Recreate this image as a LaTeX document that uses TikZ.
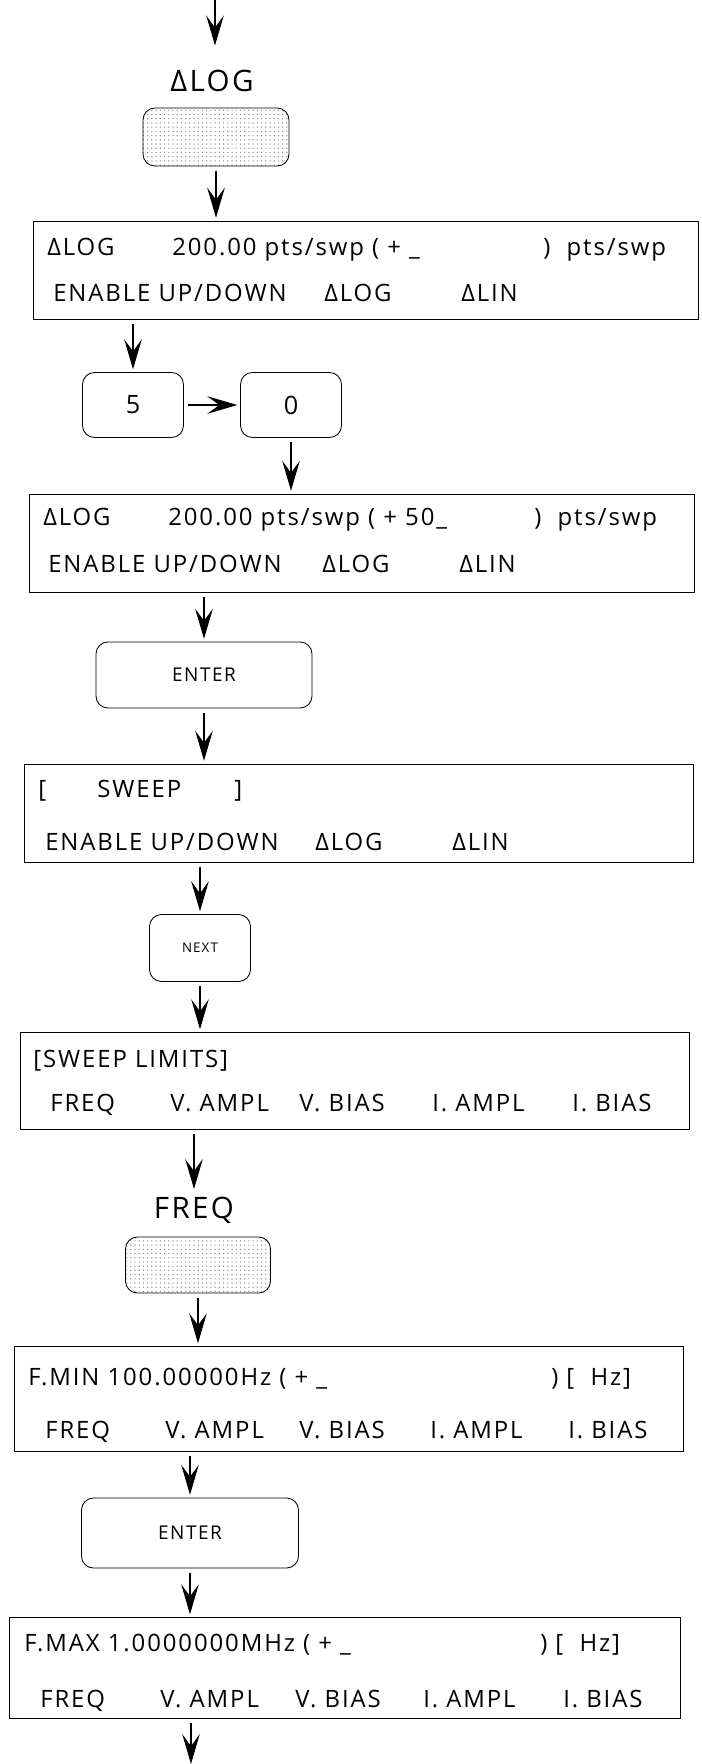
\documentclass[tikz,border=0pt]{standalone}
\usepackage{fontspec}
\setmainfont{Open Sans}[LetterSpace=8]
\usetikzlibrary{arrows.meta,patterns}

\begin{document}
\begin{tikzpicture}[x=0.025cm, y=-0.025cm,
    >={Stealth[length=0.75cm, width=0.44cm, inset=0.3cm]},
    disp/.style={draw, line width=0.6pt, inner sep=0pt},
    key/.style={draw, line width=0.6pt, rounded corners=0.3cm, inner sep=0pt},
    softkey/.style={key, pattern=dots, pattern color=black!45},
    txt/.style={anchor=base west, inner sep=0pt, font=\fontsize{17}{20}\selectfont},
    flow/.style={->, line width=0.8pt, shorten <=3pt, shorten >=2pt}]
  \useasboundingbox (0,0) rectangle (702,1764);

  \coordinate (in) at (215,0);
  \node[font=\fontsize{21}{24}\selectfont] (lblLog) at (212,81) {ΔLOG};
  \node[softkey, minimum width=3.65cm, minimum height=1.45cm] (keyLog) at (216,137) {};

  \node[disp, minimum width=16.6cm, minimum height=2.45cm] (disp1) at (366,270) {};
  \node[txt] (d1a) at (47,255) {ΔLOG};
  \node[txt] (d1b) at (172,255) {200.00 pts/swp ( + \_};
  \node[txt] (d1c) at (543,255) {) \ pts/swp};
  \node[txt] (d1d) at (53,301) {ENABLE UP/DOWN};
  \node[txt] (d1e) at (324,301) {ΔLOG};
  \node[txt] (d1f) at (461,301) {ΔLIN};

  \node[key, minimum width=2.525cm, minimum height=1.625cm, font=\fontsize{18}{21}\selectfont] (key5) at (133,405) {5};
  \node[key, minimum width=2.525cm, minimum height=1.625cm, font=\fontsize{18}{21}\selectfont] (key0) at (291,405) {0};

  \node[disp, minimum width=16.625cm, minimum height=2.45cm] (disp2) at (362,543) {};
  \node[txt] (d2a) at (43,525) {ΔLOG};
  \node[txt] (d2b) at (168,525) {200.00 pts/swp ( + 50\_};
  \node[txt] (d2c) at (534,525) {) \ pts/swp};
  \node[txt] (d2d) at (48,572) {ENABLE UP/DOWN};
  \node[txt] (d2e) at (322,572) {ΔLOG};
  \node[txt] (d2f) at (459,572) {ΔLIN};

  \node[key, minimum width=5.4cm, minimum height=1.65cm, font=\fontsize{13.5}{16}\selectfont] (enterA) at (204,675) {ENTER};

  \node[disp, minimum width=16.7cm, minimum height=2.45cm] (disp3) at (359,813) {};
  \node[txt] (d3a) at (38,797) {[};
  \node[txt] (d3b) at (97,797) {SWEEP};
  \node[txt] (d3c) at (234,797) {]};
  \node[txt] (d3d) at (45,850) {ENABLE UP/DOWN};
  \node[txt] (d3e) at (315,850) {ΔLOG};
  \node[txt] (d3f) at (452,850) {ΔLIN};

  \node[key, minimum width=2.525cm, minimum height=1.675cm, font=\fontsize{9.5}{11}\selectfont] (keyNext) at (200,948) {NEXT};

  \node[disp, minimum width=16.725cm, minimum height=2.425cm] (disp4) at (355,1081) {};
  \node[txt] (d4a) at (33,1067) {[SWEEP LIMITS]};
  \node[txt] (d4b) at (50,1111) {FREQ};
  \node[txt] (d4c) at (170,1111) {V. AMPL};
  \node[txt] (d4d) at (299,1111) {V. BIAS};
  \node[txt] (d4e) at (432,1111) {I. AMPL};
  \node[txt] (d4f) at (572,1111) {I. BIAS};

  \node[font=\fontsize{21}{24}\selectfont] (lblFreq) at (194,1210) {FREQ};
  \node[softkey, minimum width=3.625cm, minimum height=1.4cm] (keyFreq) at (198,1265) {};

  \node[disp, minimum width=16.725cm, minimum height=2.625cm] (disp5) at (349,1399) {};
  \node[txt] (d5a) at (28,1385) {F.MIN 100.00000Hz ( + \_};
  \node[txt] (d5b) at (551,1385) {) [ \ Hz]};
  \node[txt] (d5c) at (45,1438) {FREQ};
  \node[txt] (d5d) at (165,1438) {V. AMPL};
  \node[txt] (d5e) at (299,1438) {V. BIAS};
  \node[txt] (d5f) at (430,1438) {I. AMPL};
  \node[txt] (d5g) at (568,1438) {I. BIAS};

  \node[key, minimum width=5.425cm, minimum height=1.75cm, font=\fontsize{13.5}{16}\selectfont] (enterB) at (190,1533) {ENTER};

  \node[disp, minimum width=16.75cm, minimum height=2.525cm] (disp6) at (345,1668) {};
  \node[txt] (d6a) at (24,1651) {F.MAX 1.0000000MHz ( + \_};
  \node[txt] (d6b) at (540,1651) {) [ \ Hz]};
  \node[txt] (d6c) at (40,1707) {FREQ};
  \node[txt] (d6d) at (160,1707) {V. AMPL};
  \node[txt] (d6e) at (295,1707) {V. BIAS};
  \node[txt] (d6f) at (423,1707) {I. AMPL};
  \node[txt] (d6g) at (563,1707) {I. BIAS};
  \coordinate (out) at (191,1764);

  \draw[flow, shorten <=0pt, shorten >=14pt] (in) -- (in |- lblLog.north);
  \draw[flow] (keyLog.south) -- (keyLog.south |- disp1.north);
  \draw[flow] (key5.north |- disp1.south) -- (key5.north);
  \draw[flow] (key5.east) -- (key0.west);
  \draw[flow] (key0.south) -- (key0.south |- disp2.north);
  \draw[flow] (enterA.north |- disp2.south) -- (enterA.north);
  \draw[flow] (enterA.south) -- (enterA.south |- disp3.north);
  \draw[flow] (keyNext.north |- disp3.south) -- (keyNext.north);
  \draw[flow] (keyNext.south) -- (keyNext.south |- disp4.north);
  \draw[flow] (lblFreq.north |- disp4.south) -- (lblFreq.north);
  \draw[flow] (keyFreq.south) -- (keyFreq.south |- disp5.north);
  \draw[flow] (enterB.north |- disp5.south) -- (enterB.north);
  \draw[flow] (enterB.south) -- (enterB.south |- disp6.north);
  \draw[flow, shorten >=0pt] (out |- disp6.south) -- (out);
\end{tikzpicture}
\end{document}
